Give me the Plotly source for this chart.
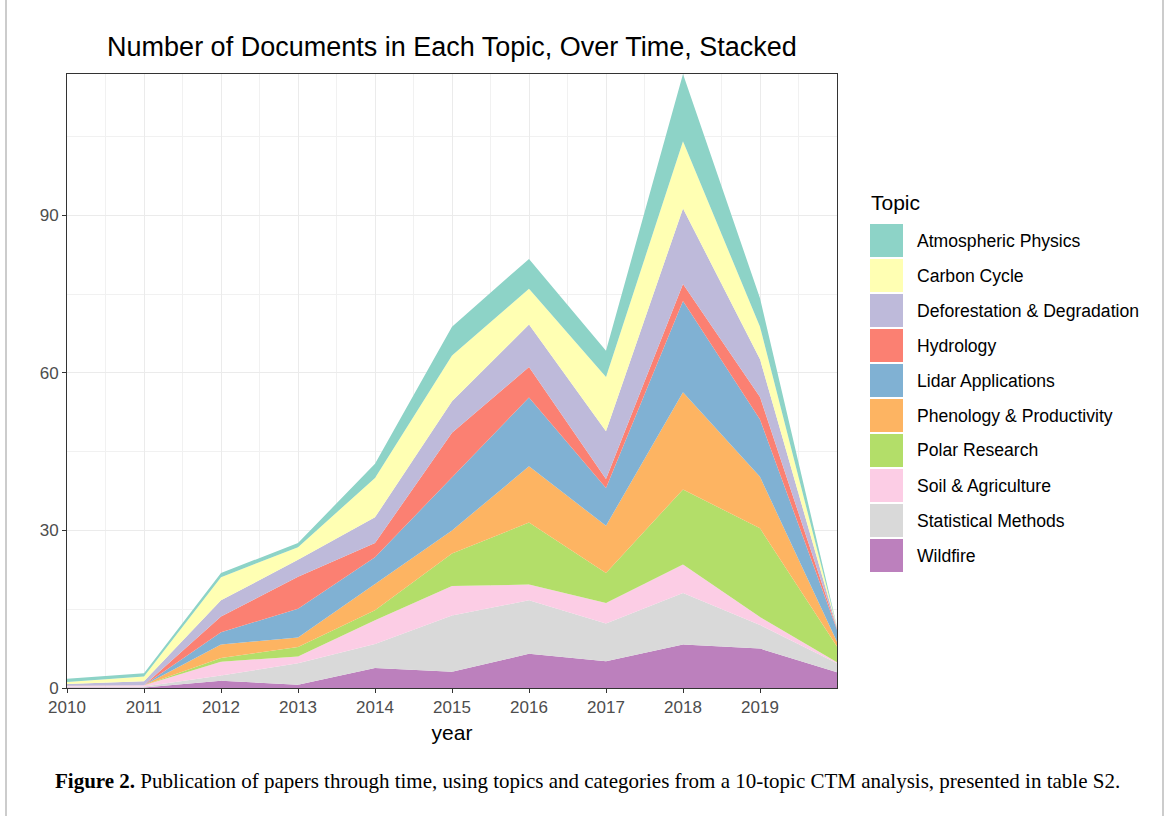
import plotly.graph_objects as go

years = [2010, 2011, 2012, 2013, 2014, 2015, 2016, 2017, 2018, 2019, 2020]
year_ticks = [2010, 2011, 2012, 2013, 2014, 2015, 2016, 2017, 2018, 2019]
y_ticks = [0, 30, 60, 90]

# bottom -> top stacking order
topics = ["Wildfire", "Statistical Methods", "Soil & Agriculture", "Polar Research",
          "Phenology & Productivity", "Lidar Applications", "Hydrology",
          "Deforestation & Degradation", "Carbon Cycle", "Atmospheric Physics"]

wildfire = [0.1, 0.1, 1.4, 0.6, 3.8, 3.1, 6.5, 5.1, 8.3, 7.5, 3.0]
statistical = [0.2, 0.2, 1.0, 4.1, 4.6, 10.7, 10.2, 7.2, 9.8, 4.5, 1.7]
soil = [0.1, 0.2, 2.6, 1.3, 4.5, 5.6, 3.0, 3.9, 5.4, 1.5, 0.2]
polar = [0.0, 0.0, 0.7, 1.8, 1.9, 6.2, 11.8, 5.7, 14.3, 16.9, 3.0]
phenology = [0.0, 0.0, 2.6, 1.8, 5.0, 4.4, 10.7, 9.0, 18.5, 9.8, 0.9]
lidar = [0.0, 0.0, 2.3, 5.5, 5.1, 10.2, 13.1, 7.2, 17.4, 10.9, 2.3]
hydrology = [0.05, 0.0, 3.0, 6.1, 2.7, 8.4, 5.8, 1.7, 3.2, 4.3, 0.2]
deforestation = [0.3, 0.8, 3.1, 3.2, 4.9, 6.0, 8.1, 9.1, 14.4, 7.2, 0.2]
carbon = [0.4, 0.9, 4.4, 2.4, 7.5, 8.7, 6.8, 10.3, 12.8, 6.2, 0.1]
atmospheric = [0.6, 0.6, 0.8, 0.8, 2.7, 5.5, 5.7, 5.0, 12.8, 5.4, 0.1]

series = [wildfire, statistical, soil, polar, phenology, lidar, hydrology,
          deforestation, carbon, atmospheric]
colors = ["#BC80BD", "#D9D9D9", "#FCCDE5", "#B3DE69", "#FDB462", "#80B1D3",
          "#FB8072", "#BEBADA", "#FFFFB3", "#8DD3C7"]

# plot area in pixels
L, R, T, B = 67, 837, 74, 688
W, H = 1168, 816

def px(p):
    return (p - L) / (R - L)

def py(q):
    return (B - q) / (B - T)

fig = go.Figure()
for name, vals, col in zip(topics, series, colors):
    fig.add_trace(go.Scatter(
        x=years, y=vals, name=name, mode="lines", stackgroup="one",
        line=dict(width=0, color=col), fillcolor=col, showlegend=False,
    ))

fig.update_layout(
    width=W, height=H,
    margin=dict(l=L, r=W - R, t=T, b=H - B),
    paper_bgcolor="white", plot_bgcolor="white",
    font=dict(family="Liberation Sans, Arial, sans-serif", color="#000"),
    title=dict(text="Number of Documents in Each Topic, Over Time, Stacked",
               x=0.5, xref="paper", y=1 - 47 / H, yref="container",
               xanchor="center", yanchor="middle",
               font=dict(size=27, color="#000")),
    showlegend=False,
)
fig.update_xaxes(
    range=[2010, 2020], tickvals=year_ticks, ticktext=[str(v) for v in year_ticks],
    showgrid=True, gridcolor="#EBEBEB", gridwidth=1.3,
    minor=dict(dtick=0.5, tick0=2010, showgrid=True, gridcolor="#F1F1F1", gridwidth=1),
    ticks="outside", ticklen=4, tickcolor="#333", tickwidth=1,
    tickfont=dict(size=17, color="#4D4D4D"),
    showline=True, linecolor="#333", linewidth=1, mirror=True,
    title=dict(text="year", font=dict(size=21, color="#000"), standoff=8),
    zeroline=False,
)
fig.update_yaxes(
    range=[0, 116.9], tickvals=y_ticks,
    showgrid=True, gridcolor="#EBEBEB", gridwidth=1.3,
    minor=dict(dtick=15, tick0=0, showgrid=True, gridcolor="#F1F1F1", gridwidth=1),
    ticks="outside", ticklen=4, tickcolor="#333", tickwidth=1,
    tickfont=dict(size=17, color="#4D4D4D"),
    showline=True, linecolor="#333", linewidth=1, mirror=True,
    zeroline=False,
)

shapes = []
annotations = []
# legend (drawn manually to match key size/spacing)
annotations.append(dict(text="Topic", x=px(869), y=py(202), xref="paper", yref="paper",
                        xanchor="left", yanchor="middle", showarrow=False,
                        font=dict(size=21, color="#000")))
legend_order = list(reversed(range(len(topics))))
for i, idx in enumerate(legend_order):
    top = 224 + 35 * i
    shapes.append(dict(type="rect", xref="paper", yref="paper",
                       x0=px(870), x1=px(903), y0=py(top), y1=py(top + 33),
                       fillcolor=colors[idx], line=dict(width=0)))
    annotations.append(dict(text=topics[idx], x=px(915), y=py(top + 16.5),
                            xref="paper", yref="paper", xanchor="left", yanchor="middle",
                            showarrow=False, font=dict(size=17.6, color="#000")))

# caption
annotations.append(dict(
    text="<b>Figure 2.</b> Publication of papers through time, using topics and categories from a 10-topic CTM analysis, presented in table S2.",
    x=px(587), y=py(781), xref="paper", yref="paper", xanchor="center", yanchor="middle",
    showarrow=False, font=dict(family="Liberation Serif, Times New Roman, serif", size=21, color="#000")))

# outer frame lines
for xx in (6, 1163):
    shapes.append(dict(type="line", xref="paper", yref="paper",
                       x0=px(xx), x1=px(xx), y0=py(0), y1=py(816),
                       line=dict(color="#CCCCCC", width=2)))

fig.update_layout(shapes=shapes, annotations=annotations)
fig.write_html("out.html")
